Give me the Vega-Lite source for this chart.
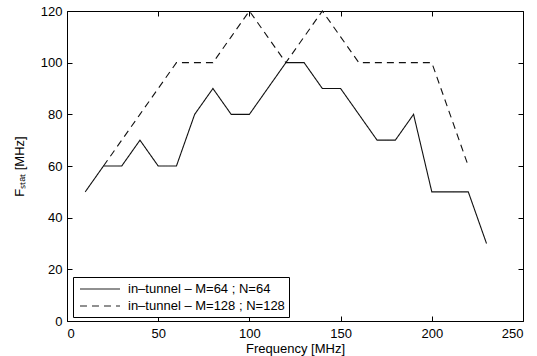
{
  "$schema": "https://vega.github.io/schema/vega-lite/v6.json",
  "width": 456,
  "height": 310,
  "autosize": {"type": "none"},
  "padding": {"left": 67, "top": 11, "right": 14, "bottom": 35},
  "config": {
    "font": "Liberation Sans",
    "view": {"stroke": "black", "strokeWidth": 1},
    "axis": {
      "grid": false,
      "domain": false,
      "tickSize": -5,
      "tickColor": "black",
      "labelColor": "black",
      "labelFontSize": 13,
      "titleFontSize": 13,
      "titleFontWeight": "normal",
      "titleColor": "black",
      "labelFont": "Liberation Sans",
      "titleFont": "Liberation Sans"
    }
  },
  "data": {
    "values": [
      {"freq": 10, "F": 50, "series": "in–tunnel – M=64 ; N=64"},
      {"freq": 20, "F": 60, "series": "in–tunnel – M=64 ; N=64"},
      {"freq": 30, "F": 60, "series": "in–tunnel – M=64 ; N=64"},
      {"freq": 40, "F": 70, "series": "in–tunnel – M=64 ; N=64"},
      {"freq": 50, "F": 60, "series": "in–tunnel – M=64 ; N=64"},
      {"freq": 60, "F": 60, "series": "in–tunnel – M=64 ; N=64"},
      {"freq": 70, "F": 80, "series": "in–tunnel – M=64 ; N=64"},
      {"freq": 80, "F": 90, "series": "in–tunnel – M=64 ; N=64"},
      {"freq": 90, "F": 80, "series": "in–tunnel – M=64 ; N=64"},
      {"freq": 100, "F": 80, "series": "in–tunnel – M=64 ; N=64"},
      {"freq": 110, "F": 90, "series": "in–tunnel – M=64 ; N=64"},
      {"freq": 120, "F": 100, "series": "in–tunnel – M=64 ; N=64"},
      {"freq": 130, "F": 100, "series": "in–tunnel – M=64 ; N=64"},
      {"freq": 140, "F": 90, "series": "in–tunnel – M=64 ; N=64"},
      {"freq": 150, "F": 90, "series": "in–tunnel – M=64 ; N=64"},
      {"freq": 160, "F": 80, "series": "in–tunnel – M=64 ; N=64"},
      {"freq": 170, "F": 70, "series": "in–tunnel – M=64 ; N=64"},
      {"freq": 180, "F": 70, "series": "in–tunnel – M=64 ; N=64"},
      {"freq": 190, "F": 80, "series": "in–tunnel – M=64 ; N=64"},
      {"freq": 200, "F": 50, "series": "in–tunnel – M=64 ; N=64"},
      {"freq": 210, "F": 50, "series": "in–tunnel – M=64 ; N=64"},
      {"freq": 220, "F": 50, "series": "in–tunnel – M=64 ; N=64"},
      {"freq": 230, "F": 30, "series": "in–tunnel – M=64 ; N=64"},
      {"freq": 20, "F": 60, "series": "in–tunnel – M=128 ; N=128"},
      {"freq": 30, "F": 70, "series": "in–tunnel – M=128 ; N=128"},
      {"freq": 40, "F": 80, "series": "in–tunnel – M=128 ; N=128"},
      {"freq": 50, "F": 90, "series": "in–tunnel – M=128 ; N=128"},
      {"freq": 60, "F": 100, "series": "in–tunnel – M=128 ; N=128"},
      {"freq": 70, "F": 100, "series": "in–tunnel – M=128 ; N=128"},
      {"freq": 80, "F": 100, "series": "in–tunnel – M=128 ; N=128"},
      {"freq": 90, "F": 110, "series": "in–tunnel – M=128 ; N=128"},
      {"freq": 100, "F": 120, "series": "in–tunnel – M=128 ; N=128"},
      {"freq": 110, "F": 110, "series": "in–tunnel – M=128 ; N=128"},
      {"freq": 120, "F": 100, "series": "in–tunnel – M=128 ; N=128"},
      {"freq": 130, "F": 110, "series": "in–tunnel – M=128 ; N=128"},
      {"freq": 140, "F": 120, "series": "in–tunnel – M=128 ; N=128"},
      {"freq": 150, "F": 110, "series": "in–tunnel – M=128 ; N=128"},
      {"freq": 160, "F": 100, "series": "in–tunnel – M=128 ; N=128"},
      {"freq": 170, "F": 100, "series": "in–tunnel – M=128 ; N=128"},
      {"freq": 180, "F": 100, "series": "in–tunnel – M=128 ; N=128"},
      {"freq": 190, "F": 100, "series": "in–tunnel – M=128 ; N=128"},
      {"freq": 200, "F": 100, "series": "in–tunnel – M=128 ; N=128"},
      {"freq": 210, "F": 80, "series": "in–tunnel – M=128 ; N=128"},
      {"freq": 220, "F": 60, "series": "in–tunnel – M=128 ; N=128"}
    ]
  },
  "resolve": {"axis": {"x": "independent", "y": "independent"}},
  "layer": [
    {
      "mark": {"type": "line", "strokeWidth": 1.1, "clip": false, "color": "#111111"},
      "encoding": {
        "x": {
          "field": "freq", "type": "quantitative",
          "scale": {"domain": [0, 250], "nice": false, "zero": false},
          "axis": {"title": "Frequency [MHz]", "values": [0, 50, 100, 150, 200, 250], "labelPadding": 11, "titlePadding": 2}
        },
        "y": {
          "field": "F", "type": "quantitative",
          "scale": {"domain": [0, 120], "nice": false},
          "axis": {"title": "Fₛₜₐₜ [MHz]", "values": [0, 20, 40, 60, 80, 100, 120], "labelPadding": 10, "titlePadding": 14}
        },
        "strokeDash": {
          "field": "series", "type": "nominal",
          "scale": {"domain": ["in–tunnel – M=64 ; N=64", "in–tunnel – M=128 ; N=128"], "range": [[1, 0], [7, 5]]},
          "legend": {
            "title": null,
            "orient": "none",
            "legendX": 6,
            "legendY": 266,
            "strokeColor": "black",
            "fillColor": "white",
            "padding": 4,
            "symbolType": "M-2.86,0H2.86",
            "symbolSize": 196,
            "symbolOffset": 15,
            "symbolStrokeWidth": 1.1,
            "symbolStrokeColor": "#222",
            "labelFontSize": 13,
            "labelColor": "black",
            "labelLimit": 0,
            "labelOffset": 20,
            "rowPadding": 2
          }
        }
      }
    },
    {
      "mark": {"type": "line", "opacity": 0},
      "encoding": {
        "x": {"field": "freq", "type": "quantitative", "axis": {"orient": "top", "labels": false, "title": null, "values": [0, 50, 100, 150, 200, 250]}},
        "y": {"field": "F", "type": "quantitative", "axis": {"orient": "right", "labels": false, "title": null, "values": [0, 20, 40, 60, 80, 100, 120]}}
      }
    }
  ]
}
